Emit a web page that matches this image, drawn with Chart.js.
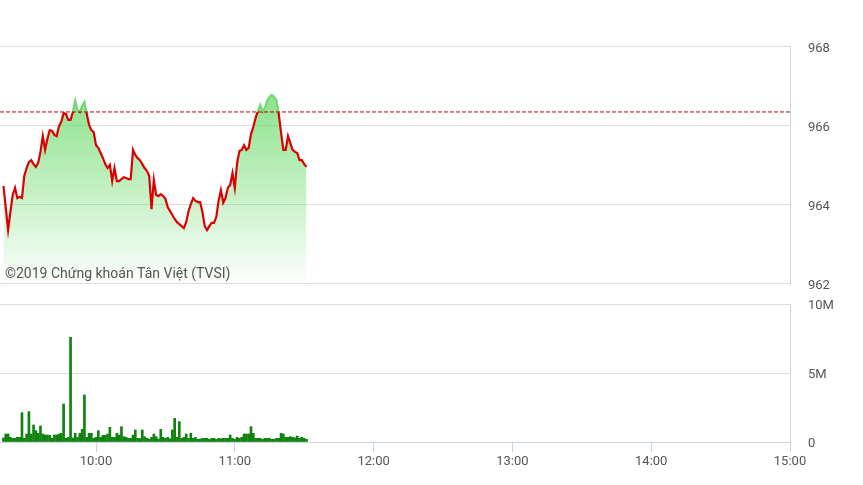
<!DOCTYPE html>
<html>
<head>
<meta charset="utf-8">
<script src="https://cdn.jsdelivr.net/npm/chart.js@4.4.0/dist/chart.umd.min.js"></script>
<style>
  html, body { margin: 0; padding: 0; background: #fff; }
  #wrap { position: relative; width: 863px; height: 485px; }
  #wrap canvas { position: absolute; left: 0; top: 0; }
</style>
</head>
<body>
<div id="wrap">
  <canvas id="volChart" width="863" height="485"></canvas>
  <canvas id="priceChart" width="863" height="485"></canvas>
</div>
<script>
// Intraday index, one point per minute (morning session)
const times = [
  '09:20','09:21','09:22','09:23','09:24','09:25','09:26','09:27','09:28','09:29',
  '09:30','09:31','09:32','09:33','09:34','09:35','09:36','09:37','09:38','09:39',
  '09:40','09:41','09:42','09:43','09:44','09:45','09:46','09:47','09:48','09:49',
  '09:50','09:51','09:52','09:53','09:54','09:55','09:56','09:57','09:58','09:59',
  '10:00','10:01','10:02','10:03','10:04','10:05','10:06','10:07','10:08','10:09',
  '10:10','10:11','10:12','10:13','10:14','10:15','10:16','10:17','10:18','10:19',
  '10:20','10:21','10:22','10:23','10:24','10:25','10:26','10:27','10:28','10:29',
  '10:30','10:31','10:32','10:33','10:34','10:35','10:36','10:37','10:38','10:39',
  '10:40','10:41','10:42','10:43','10:44','10:45','10:46','10:47','10:48','10:49',
  '10:50','10:51','10:52','10:53','10:54','10:55','10:56','10:57','10:58','10:59',
  '11:00','11:01','11:02','11:03','11:04','11:05','11:06','11:07','11:08','11:09',
  '11:10','11:11','11:12','11:13','11:14','11:15','11:16','11:17','11:18','11:19',
  '11:20','11:21','11:22','11:23','11:24','11:25','11:26','11:27','11:28','11:29',
  '11:30','11:31'
];

const prices = [
  964.46, 963.90, 963.34, 963.80, 964.23, 964.41, 964.15, 964.18, 964.15, 964.71,
  964.91, 965.06, 965.11, 965.01, 964.94, 965.04, 965.32, 965.72, 965.37, 965.65,
  965.87, 965.85, 965.75, 965.72, 965.97, 966.08, 966.30, 966.28, 966.13, 966.13,
  966.33, 966.62, 966.38, 966.33, 966.48, 966.58, 966.28, 966.00, 965.87, 965.82,
  965.49, 965.42, 965.29, 965.16, 965.01, 964.91, 964.99, 964.58, 964.91, 964.58,
  964.58, 964.63, 964.68, 964.66, 964.63, 964.63, 965.37, 965.24, 965.16, 965.11,
  965.01, 964.91, 964.84, 964.71, 963.87, 964.61, 964.23, 964.20, 964.25, 964.20,
  964.13, 963.92, 963.82, 963.72, 963.62, 963.54, 963.49, 963.44, 963.39, 963.54,
  963.82, 964.00, 964.15, 964.08, 964.05, 964.05, 963.80, 963.44, 963.34, 963.44,
  963.52, 963.52, 963.67, 964.08, 964.35, 964.03, 964.15, 964.41, 964.48, 964.78,
  964.41, 965.04, 965.34, 965.37, 965.49, 965.37, 965.42, 965.77, 965.95, 966.18,
  966.35, 966.51, 966.35, 966.43, 966.61, 966.71, 966.76, 966.71, 966.63, 966.28,
  965.80, 965.37, 965.37, 965.72, 965.54, 965.37, 965.32, 965.29, 965.11, 965.11,
  965.01, 964.94
];

// Matched volume per minute, thousands of shares
const volumesK = [
  300, 580, 580, 338, 266, 266, 338, 338, 2127, 266,
  580, 2200, 580, 1233, 822, 628, 1160, 580, 508, 508,
  483, 266, 508, 508, 580, 628, 2755, 266, 338, 7590,
  290, 628, 338, 628, 918, 3408, 338, 628, 628, 266,
  338, 822, 338, 483, 483, 580, 1063, 338, 338, 628,
  508, 1112, 387, 338, 266, 266, 508, 870, 266, 250,
  870, 387, 266, 193, 338, 580, 387, 220, 918, 338,
  266, 338, 230, 870, 1716, 338, 1474, 266, 338, 580,
  266, 628, 266, 338, 193, 210, 266, 266, 266, 193,
  266, 266, 193, 266, 240, 266, 266, 266, 508, 266,
  193, 338, 266, 338, 580, 580, 580, 1112, 628, 266,
  266, 266, 193, 266, 266, 266, 193, 193, 266, 266,
  628, 580, 338, 338, 387, 338, 300, 435, 266, 338,
  266, 193
];

const refPrice = 966.33;               // previous close
const axisStart = '09:18:30';
const axisEnd = '15:00';
const hourLabels = ['10:00', '11:00', '12:00', '13:00', '14:00', '15:00'];
const priceTicks = [962, 964, 966, 968];
const volumeTicks = [0, 5000000, 10000000];
const watermark = '©2019 Chứng khoán Tân Việt (TVSI)';

function toMin(t) {
    const p = t.split(':').map(Number);
    return p[0] * 60 + p[1] + (p[2] || 0) / 60;
}
function fmtTime(v) {
    const h = Math.floor(v / 60), m = Math.round(v % 60);
    return h + ':' + String(m).padStart(2, '0');
}

const xMin = toMin(axisStart);
const xMax = toMin(axisEnd);
const hourTicks = hourLabels.map(toMin);

const labelFont = { family: 'Roboto', size: 13 };
const labelColor = '#555';
const gridColor = '#dddddd';
const frameColor = '#c9d4de';

const GREEN_LINE = '#74d674';
const RED_LINE = '#dd0000';

function lineColor(context) {
    const chart = context.chart;
    const area = chart.chartArea;
    if (!area) return RED_LINE;
    const yRef = chart.scales.y.getPixelForValue(refPrice);
    const stop = Math.min(1, Math.max(0, (yRef - area.top) / (area.bottom - area.top)));
    const g = chart.ctx.createLinearGradient(0, area.top, 0, area.bottom);
    g.addColorStop(0, GREEN_LINE);
    g.addColorStop(stop, GREEN_LINE);
    g.addColorStop(stop, RED_LINE);
    g.addColorStop(1, RED_LINE);
    return g;
}

function fillColor(context) {
    const chart = context.chart;
    const area = chart.chartArea;
    if (!area) return 'rgba(95,215,95,0.3)';
    const g = chart.ctx.createLinearGradient(0, area.top, 0, area.bottom);
    g.addColorStop(0, 'rgba(95,215,95,0.9)');
    g.addColorStop(1, 'rgba(95,215,95,0.02)');
    return g;
}

const watermarkPlugin = {
    id: 'watermark',
    afterDatasetsDraw(chart) {
        const ctx = chart.ctx;
        ctx.save();
        ctx.font = '14px Roboto';
        ctx.fillStyle = '#555';
        ctx.textBaseline = 'alphabetic';
        ctx.fillText(watermark, 5, 278);
        ctx.restore();
    }
};

const priceChart = new Chart(document.getElementById('priceChart'), {
    type: 'line',
    data: {
        datasets: [{
            data: times.map((t, i) => ({ x: toMin(t), y: prices[i] })),
            borderColor: lineColor,
            backgroundColor: fillColor,
            borderWidth: 2.2,
            pointRadius: 0,
            tension: 0,
            fill: 'start',
            order: 2
        }, {
            data: [{ x: xMin, y: refPrice }, { x: xMax, y: refPrice }],
            borderColor: '#c40000',
            borderWidth: 1,
            borderDash: [4, 2],
            pointRadius: 0,
            fill: false,
            order: 1
        }]
    },
    options: {
        responsive: false,
        animation: false,
        layout: { padding: { top: 46, bottom: 202, left: 0, right: 0 } },
        plugins: { legend: { display: false }, tooltip: { enabled: false } },
        scales: {
            x: { type: 'linear', display: false, min: xMin, max: xMax },
            y: {
                position: 'right',
                min: 962,
                max: 968,
                afterBuildTicks: s => { s.ticks = priceTicks.map(v => ({ value: v })); },
                afterFit: s => { s.width = 73; },
                ticks: { padding: 18, labelOffset: 3, color: labelColor, font: labelFont },
                grid: { color: gridColor, drawTicks: false },
                border: { display: true, color: frameColor }
            }
        }
    },
    plugins: [watermarkPlugin]
});

const volChart = new Chart(document.getElementById('volChart'), {
    type: 'bar',
    data: {
        datasets: [{
            data: times.map((t, i) => ({ x: toMin(t), y: volumesK[i] * 1000 })),
            backgroundColor: '#0f820f',
            barThickness: 2
        }]
    },
    options: {
        responsive: false,
        animation: false,
        layout: { padding: { top: 304, bottom: 0, left: 0, right: 0 } },
        plugins: { legend: { display: false }, tooltip: { enabled: false } },
        scales: {
            x: {
                type: 'linear',
                min: xMin,
                max: xMax,
                offset: false,
                afterBuildTicks: s => { s.ticks = hourTicks.map(v => ({ value: v })); },
                afterFit: s => { s.height = 43; },
                ticks: { padding: 2, color: labelColor, font: labelFont, maxRotation: 0,
                         callback: v => fmtTime(v) },
                grid: { offset: false, drawOnChartArea: false, drawTicks: true, tickLength: 10, color: frameColor },
                border: { display: true, color: frameColor }
            },
            y: {
                position: 'right',
                min: 0,
                max: 10000000,
                afterBuildTicks: s => { s.ticks = volumeTicks.map(v => ({ value: v })); },
                afterFit: s => { s.width = 73; },
                ticks: { padding: 18, labelOffset: 2, color: labelColor, font: labelFont,
                         callback: v => v === 0 ? '0' : (v / 1000000) + 'M' },
                grid: { color: gridColor, drawTicks: false },
                border: { display: true, color: frameColor }
            }
        }
    }
});
</script>
</body>
</html>
